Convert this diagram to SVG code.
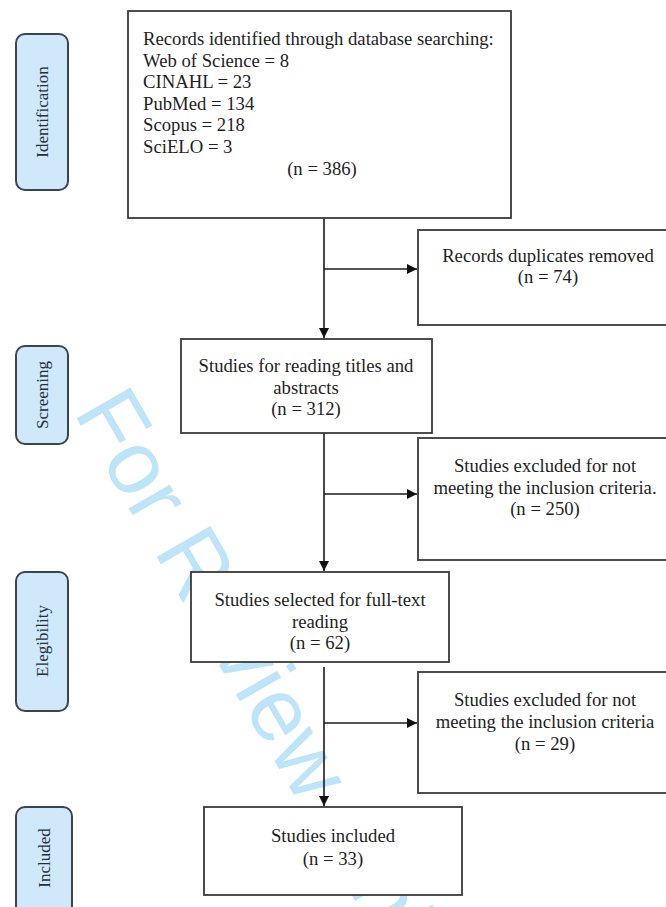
<svg xmlns="http://www.w3.org/2000/svg" width="666" height="907" viewBox="0 0 666 907">
<defs>
<style>
.box{fill:#fff;stroke:#3a3a3a;stroke-width:1.8}
.pill{fill:#cfe8fa;stroke:#3c444c;stroke-width:2}
.t{font-family:"Liberation Serif","Times New Roman",serif;font-size:18.7px;fill:#1e1e1e}
.c{text-anchor:middle}
.pt{font-family:"Liberation Serif","Times New Roman",serif;font-size:17px;fill:#26303a;text-anchor:middle}
.wm{font-family:"Liberation Sans",Arial,sans-serif;font-size:90px;fill:#bde4f8}
.ln{stroke:#1a1a1a;stroke-width:1.6;fill:none}
</style>
<marker id="ah" viewBox="0 0 10 10" refX="10" refY="5" markerWidth="10" markerHeight="10" markerUnits="userSpaceOnUse" orient="auto">
<path d="M0,0 L10,5 L0,10 Z" fill="#111"/>
</marker>
</defs>
<rect width="666" height="907" fill="#fff"/>
<text class="wm" transform="translate(73,412) rotate(60)">For Review Only</text>

<g id="phase-identification">
<rect class="pill" x="16" y="34" width="52" height="156" rx="9"/>
<text class="pt" transform="translate(48,112) rotate(-90)">Identification</text>
</g>
<g id="phase-screening">
<rect class="pill" x="16" y="346" width="52" height="98" rx="9"/>
<text class="pt" transform="translate(48,395) rotate(-90)">Screening</text>
</g>
<g id="phase-eligibility">
<rect class="pill" x="16" y="572" width="52" height="139" rx="9"/>
<text class="pt" transform="translate(48,641) rotate(-90)">Elegibility</text>
</g>
<g id="phase-included">
<rect class="pill" x="16" y="807" width="56" height="110" rx="9"/>
<text class="pt" transform="translate(50,858) rotate(-90)">Included</text>
</g>

<g id="connectors">
<line class="ln" x1="324" y1="218" x2="324" y2="338" marker-end="url(#ah)"/>
<line class="ln" x1="324" y1="269" x2="417" y2="269" marker-end="url(#ah)"/>
<line class="ln" x1="324" y1="433" x2="324" y2="571" marker-end="url(#ah)"/>
<line class="ln" x1="324" y1="494" x2="417" y2="494" marker-end="url(#ah)"/>
<line class="ln" x1="324" y1="667" x2="324" y2="806" marker-end="url(#ah)"/>
<line class="ln" x1="324" y1="723" x2="417" y2="723" marker-end="url(#ah)"/>
</g>

<g id="records-identified">
<rect class="box" x="128" y="11" width="383" height="207"/>
<text class="t" x="143" y="45">Records identified through database searching:</text>
<text class="t" x="143" y="66.5">Web of Science = 8</text>
<text class="t" x="143" y="88">CINAHL = 23</text>
<text class="t" x="143" y="109.5">PubMed = 134</text>
<text class="t" x="143" y="131">Scopus = 218</text>
<text class="t" x="143" y="152.5">SciELO = 3</text>
<text class="t c" x="322" y="175">(n = 386)</text>
</g>

<g id="duplicates-removed">
<rect class="box" x="418" y="230" width="260" height="95"/>
<text class="t c" x="548" y="262">Records duplicates removed</text>
<text class="t c" x="548" y="283">(n = 74)</text>
</g>

<g id="screened">
<rect class="box" x="181" y="339" width="251" height="94"/>
<text class="t c" x="306" y="372">Studies for reading titles and</text>
<text class="t c" x="306" y="393.5">abstracts</text>
<text class="t c" x="306" y="415">(n = 312)</text>
</g>

<g id="excluded-screening">
<rect class="box" x="418" y="438" width="260" height="122"/>
<text class="t c" x="545" y="472">Studies excluded for not</text>
<text class="t c" x="545" y="493.5">meeting the inclusion criteria.</text>
<text class="t c" x="545" y="515">(n = 250)</text>
</g>

<g id="full-text">
<rect class="box" x="191" y="572" width="258" height="90"/>
<text class="t c" x="320" y="606">Studies selected for full-text</text>
<text class="t c" x="320" y="627.5">reading</text>
<text class="t c" x="320" y="649">(n = 62)</text>
</g>

<g id="excluded-eligibility">
<rect class="box" x="418" y="672" width="260" height="121"/>
<text class="t c" x="545" y="706">Studies excluded for not</text>
<text class="t c" x="545" y="728">meeting the inclusion criteria</text>
<text class="t c" x="545" y="750">(n = 29)</text>
</g>

<g id="included">
<rect class="box" x="204" y="807" width="258" height="88"/>
<text class="t c" x="333" y="842">Studies included</text>
<text class="t c" x="333" y="865">(n = 33)</text>
</g>
</svg>
